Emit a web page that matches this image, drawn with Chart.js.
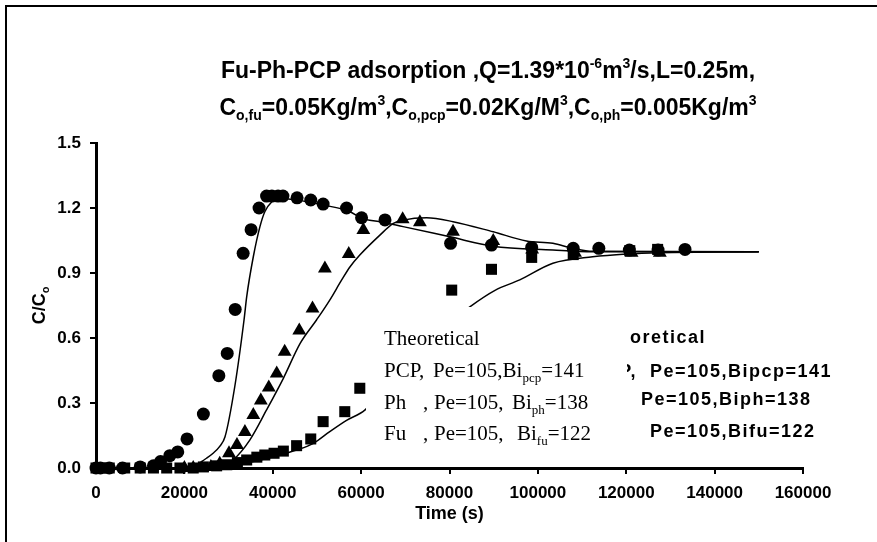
<!DOCTYPE html>
<html>
<head>
<meta charset="utf-8">
<script src="https://cdn.jsdelivr.net/npm/chart.js@4/dist/chart.umd.min.js"></script>
<style>
  html, body { margin: 0; padding: 0; background: #fff; }
  canvas { display: block; }
</style>
</head>
<body>
<canvas id="chart" width="877" height="542"></canvas>
<script>
// Experimental points (time in s, C/Co)
const pcpTime = [0, 1000, 3000, 6000, 10000, 13000, 14600, 16700, 18500, 20600, 24300, 27800, 29700, 31500, 33300, 35100, 36900, 38600, 39800, 41200, 42300, 45500, 48600, 51400, 56700, 60100, 65400, 80250, 89500, 98600, 108000, 113800, 120700, 127200, 133300];
const pcpC = [0, 0, 0, 0, 0.005, 0.01, 0.03, 0.057, 0.074, 0.134, 0.249, 0.426, 0.529, 0.732, 0.991, 1.10, 1.20, 1.255, 1.255, 1.255, 1.255, 1.247, 1.237, 1.218, 1.20, 1.155, 1.145, 1.037, 1.029, 1.018, 1.014, 1.014, 1.006, 1.006, 1.009];

const phTime = [20000, 22000, 24000, 26000, 28000, 30100, 31900, 33700, 35600, 37300, 39100, 40900, 42700, 46000, 49000, 51800, 57200, 60500, 69400, 73300, 80800, 89900, 98700, 108400, 121200, 127600];
const phC = [0, 0, 0, 0.005, 0.02, 0.068, 0.106, 0.166, 0.245, 0.311, 0.371, 0.436, 0.537, 0.635, 0.736, 0.921, 0.988, 1.098, 1.148, 1.134, 1.09, 1.048, 1.009, 0.994, 0.994, 0.994];

const fuTime = [0, 1000, 3000, 6500, 10000, 13000, 16000, 19000, 22000, 24300, 27300, 29600, 32000, 34100, 36400, 38200, 40300, 42400, 45400, 48600, 51400, 56300, 59700, 80500, 89500, 98600, 108000, 120800, 127100];
const fuC = [0, 0, 0, 0, 0, 0, 0, 0, 0, 0.005, 0.01, 0.015, 0.025, 0.037, 0.05, 0.06, 0.068, 0.078, 0.103, 0.134, 0.214, 0.26, 0.368, 0.821, 0.917, 0.972, 0.985, 1.003, 1.009];

// Theoretical curves
const pcpModelTime = [0, 15000, 20000, 22800, 25000, 26500, 28000, 29200, 31400, 33500, 34100, 35600, 37100, 38200, 39800, 41300, 45400, 51400, 57500, 60100, 64250, 69500, 80100, 89800, 103400, 112400, 150000];
const pcpModelC = [0, 0, 0.005, 0.017, 0.045, 0.068, 0.10, 0.144, 0.375, 0.683, 0.79, 0.975, 1.114, 1.183, 1.229, 1.245, 1.237, 1.214, 1.183, 1.152, 1.137, 1.114, 1.067, 1.024, 1.006, 0.998, 0.998];

const phModelTime = [0, 25000, 28000, 31000, 34800, 38600, 42400, 46200, 49900, 52900, 55600, 57500, 59700, 64250, 67300, 69500, 74800, 80800, 89900, 97400, 103400, 107900, 112400, 150000];
const phModelC = [0, 0, 0.005, 0.037, 0.129, 0.268, 0.414, 0.575, 0.683, 0.775, 0.868, 0.929, 0.983, 1.075, 1.129, 1.144, 1.155, 1.137, 1.09, 1.048, 1.037, 1.014, 1.0, 0.998];

const fuModelTime = [0, 28000, 31000, 34100, 37900, 41600, 45400, 49200, 52900, 56700, 60900, 65000, 70000, 75000, 80000, 84600, 90300, 95900, 103400, 112400, 120100, 127600, 150000];
const fuModelC = [0, 0, 0.01, 0.024, 0.04, 0.06, 0.083, 0.114, 0.168, 0.22, 0.268, 0.37, 0.48, 0.58, 0.67, 0.744, 0.82, 0.868, 0.945, 0.975, 0.988, 0.994, 0.998];

const xMin = 0, xMax = 160000, xStep = 20000;
const yMin = 0, yMax = 1.5, yStep = 0.3;

const SANS = "'Liberation Sans', Arial, sans-serif";
const SERIF = "'Liberation Serif', 'Times New Roman', serif";

function pts(xs, ys) {
    return xs.map((x, i) => ({ x: x, y: ys[i] }));
}

// draw text made of runs with sub/superscripts, returns end x
function drawRuns(ctx, runs, x, y, size, family, weight) {
    runs.forEach(r => {
        let s = size, dy = 0;
        if (r.sup) { s = Math.round(size * 0.62); dy = -size * 0.42; }
        if (r.sub) { s = Math.round(size * 0.62); dy = size * 0.22; }
        ctx.font = weight + ' ' + s + 'px ' + family;
        if (r.x !== undefined) x = r.x;
        ctx.fillText(r.t, x, y + dy);
        x += ctx.measureText(r.t).width;
    });
    return x;
}
function runsWidth(ctx, runs, size, family, weight) {
    let w = 0;
    runs.forEach(r => {
        let s = (r.sup || r.sub) ? Math.round(size * 0.62) : size;
        ctx.font = weight + ' ' + s + 'px ' + family;
        w += ctx.measureText(r.t).width;
    });
    return w;
}

const titleLine1 = [{ t: 'Fu-Ph-PCP adsorption ,Q=1.39*10' }, { t: '-6', sup: true }, { t: 'm' }, { t: '3', sup: true }, { t: '/s,L=0.25m,' }];
const titleLine2 = [{ t: 'C' }, { t: 'o,fu', sub: true }, { t: '=0.05Kg/m' }, { t: '3', sup: true }, { t: ',C' }, { t: 'o,pcp', sub: true }, { t: '=0.02Kg/M' }, { t: '3', sup: true }, { t: ',C' }, { t: 'o,ph', sub: true }, { t: '=0.005Kg/m' }, { t: '3', sup: true }];

const boxRight = 627;

const decorations = {
    id: 'decorations',
    beforeDraw(chart) {
        const ctx = chart.ctx;
        ctx.save();
        ctx.fillStyle = '#fff';
        ctx.fillRect(0, 0, chart.width, chart.height);
        ctx.strokeStyle = '#000';
        ctx.lineWidth = 2;
        ctx.strokeRect(6, 6, 900, 600);
        ctx.restore();
    },
    afterDatasetsDraw(chart) {
        const ctx = chart.ctx;
        ctx.save();
        ctx.fillStyle = '#000';
        ctx.textBaseline = 'alphabetic';

        // bold legend box lying behind the white one (only its right part shows)
        ctx.save();
        ctx.beginPath();
        ctx.rect(boxRight, 300, 300, 160);
        ctx.clip();
        ctx.font = 'bold 18px ' + SANS;
        ctx.letterSpacing = '1.5px';
        const hidden = [
            ['', 'oretical', 630, 343],
            ['PCP,  ', 'Pe=105,Bipcp=141', 650, 377],
            ['', 'Pe=105,Biph=138', 641, 405],
            ['', 'Pe=105,Bifu=122', 650, 437]
        ];
        hidden.forEach(h => {
            const pre = h[0] ? ctx.measureText(h[0]).width : 0;
            ctx.fillText(h[0] + h[1], h[2] - pre, h[3]);
        });
        ctx.letterSpacing = '0px';
        ctx.restore();

        // white legend box
        ctx.fillStyle = '#fff';
        ctx.fillRect(366, 307, boxRight - 366, 148);
        ctx.fillStyle = '#000';
        drawRuns(ctx, [{ t: 'Theoretical' }], 384, 345, 21, SERIF, 'normal');
        drawRuns(ctx, [{ t: 'PCP,' }, { t: 'Pe=105,Bi', x: 433 }, { t: 'pcp', sub: true }, { t: '=141' }], 384, 377, 21, SERIF, 'normal');
        drawRuns(ctx, [{ t: 'Ph' }, { t: ',', x: 423 }, { t: 'Pe=105,', x: 434 }, { t: 'Bi', x: 512 }, { t: 'ph', sub: true }, { t: '=138' }], 384, 409, 21, SERIF, 'normal');
        drawRuns(ctx, [{ t: 'Fu' }, { t: ',', x: 423 }, { t: 'Pe=105,', x: 434 }, { t: 'Bi', x: 517 }, { t: 'fu', sub: true }, { t: '=122' }], 384, 440, 21, SERIF, 'normal');
        ctx.restore();
    },
    afterDraw(chart) {
        const ctx = chart.ctx;
        const area = chart.chartArea;
        ctx.save();
        ctx.fillStyle = '#000';
        ctx.textBaseline = 'alphabetic';

        // chart title
        const cx = 488;
        let w1 = runsWidth(ctx, titleLine1, 23, SANS, 'bold');
        drawRuns(ctx, titleLine1, cx - w1 / 2, 78, 23, SANS, 'bold');
        let w2 = runsWidth(ctx, titleLine2, 23, SANS, 'bold');
        drawRuns(ctx, titleLine2, cx - w2 / 2, 115, 23, SANS, 'bold');

        // x axis title
        ctx.font = 'bold 18px ' + SANS;
        ctx.textAlign = 'center';
        ctx.fillText('Time (s)', (area.left + area.right) / 2, 519);

        // y axis title
        ctx.translate(45, (area.top + area.bottom) / 2);
        ctx.rotate(-Math.PI / 2);
        ctx.textAlign = 'left';
        const yRuns = [{ t: 'C/C' }, { t: 'o', sub: true }];
        const wy = runsWidth(ctx, yRuns, 18, SANS, 'bold');
        drawRuns(ctx, yRuns, -wy / 2, 0, 18, SANS, 'bold');
        ctx.restore();
    }
};

const markerBase = { showLine: false, backgroundColor: '#000', borderColor: '#000', borderWidth: 0, clip: false };
const lineBase = { showLine: true, pointRadius: 0, borderColor: '#000', borderWidth: 1.5, fill: false, cubicInterpolationMode: 'monotone', clip: false };

new Chart(document.getElementById('chart'), {
    type: 'scatter',
    data: {
        datasets: [
            Object.assign({ label: 'PCP', data: pts(pcpTime, pcpC), pointStyle: 'circle', pointRadius: 6.5 }, markerBase),
            Object.assign({ label: 'Ph', data: pts(phTime, phC), pointStyle: 'triangle', pointRadius: 8 }, markerBase),
            Object.assign({ label: 'Fu', data: pts(fuTime, fuC), pointStyle: 'rect', pointRadius: 7.8 }, markerBase),
            Object.assign({ label: 'PCP theoretical', data: pts(pcpModelTime, pcpModelC) }, lineBase),
            Object.assign({ label: 'Ph theoretical', data: pts(phModelTime, phModelC) }, lineBase),
            Object.assign({ label: 'Fu theoretical', data: pts(fuModelTime, fuModelC) }, lineBase)
        ]
    },
    options: {
        responsive: false,
        animation: false,
        devicePixelRatio: 1,
        layout: { padding: { left: 0, top: 143, right: 74, bottom: 0 } },
        plugins: {
            legend: { display: false },
            title: { display: false },
            tooltip: { enabled: false }
        },
        elements: { point: { hoverRadius: 0 } },
        scales: {
            x: {
                type: 'linear',
                min: xMin,
                max: xMax,
                ticks: {
                    stepSize: xStep,
                    color: '#000',
                    padding: 9,
                    maxRotation: 0,
                    font: { family: SANS, size: 17, weight: 'bold' },
                    callback: v => String(v)
                },
                grid: { drawOnChartArea: false, drawTicks: true, tickLength: 6, color: '#000', lineWidth: 2 },
                border: { color: '#000', width: 3 },
                afterFit: s => { s.height = 74; }
            },
            y: {
                type: 'linear',
                min: yMin,
                max: yMax,
                ticks: {
                    stepSize: yStep,
                    color: '#000',
                    padding: 9,
                    font: { family: SANS, size: 17, weight: 'bold' },
                    callback: v => v.toFixed(1)
                },
                grid: { drawOnChartArea: false, drawTicks: true, tickLength: 6, color: '#000', lineWidth: 2 },
                border: { color: '#000', width: 3 },
                afterFit: s => { s.width = 96; }
            }
        }
    },
    plugins: [decorations]
});
</script>
</body>
</html>
